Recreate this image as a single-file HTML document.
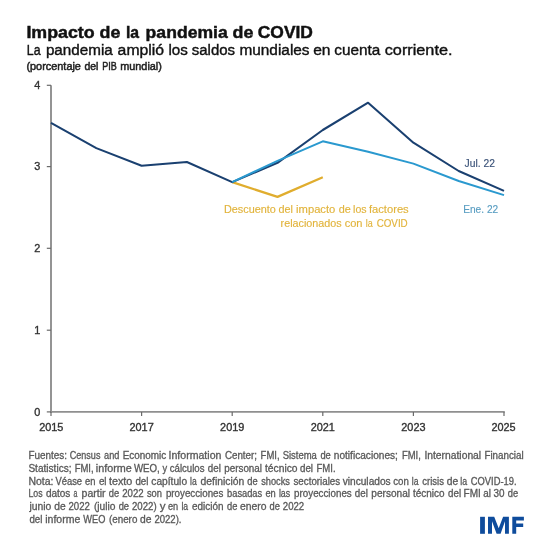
<!DOCTYPE html>
<html><head><meta charset="utf-8">
<style>
html,body{margin:0;padding:0;background:#fff;}
body{width:550px;height:550px;overflow:hidden;position:relative;font-family:"Liberation Sans",sans-serif;}
svg{position:absolute;left:0;top:0;will-change:transform;}
text{font-family:"Liberation Sans",sans-serif;}
</style></head><body>
<svg width="550" height="550" viewBox="0 0 550 550">
<rect x="0" y="0" width="550" height="550" fill="#fff"/>
<g font-size="16.8" font-weight="bold" fill="#111" stroke="#111" stroke-width="0.45">
<text x="26.4" y="38.2" textLength="68.27" lengthAdjust="spacingAndGlyphs">Impacto</text>
<text x="99.52" y="38.2" textLength="20.85" lengthAdjust="spacingAndGlyphs">de</text>
<text x="125.92" y="38.2" textLength="13.13" lengthAdjust="spacingAndGlyphs">la</text>
<text x="145.64" y="38.2" textLength="82.13" lengthAdjust="spacingAndGlyphs">pandemia</text>
<text x="232.6" y="38.2" textLength="20.85" lengthAdjust="spacingAndGlyphs">de</text>
<text x="257.76" y="38.2" textLength="55.18" lengthAdjust="spacingAndGlyphs">COVID</text>
</g>
<g font-size="15.5" fill="#111" stroke="#111" stroke-width="0.4">
<text x="26.8" y="54.5" textLength="13.77" lengthAdjust="spacingAndGlyphs">La</text>
<text x="45.92" y="54.5" textLength="66.82" lengthAdjust="spacingAndGlyphs">pandemia</text>
<text x="117.64" y="54.5" textLength="46.46" lengthAdjust="spacingAndGlyphs">amplió</text>
<text x="168.44" y="54.5" textLength="19.41" lengthAdjust="spacingAndGlyphs">los</text>
<text x="191.72" y="54.5" textLength="43.34" lengthAdjust="spacingAndGlyphs">saldos</text>
<text x="239.4" y="54.5" textLength="70.17" lengthAdjust="spacingAndGlyphs">mundiales</text>
<text x="313.16" y="54.5" textLength="17.36" lengthAdjust="spacingAndGlyphs">en</text>
<text x="334.32" y="54.5" textLength="46.01" lengthAdjust="spacingAndGlyphs">cuenta</text>
<text x="384.76" y="54.5" textLength="67.73" lengthAdjust="spacingAndGlyphs">corriente.</text>
</g>
<g font-size="11.2" fill="#222" stroke="#222" stroke-width="0.5">
<text x="26.4" y="70.4" textLength="54.55" lengthAdjust="spacingAndGlyphs">(porcentaje</text>
<text x="84.4" y="70.4" textLength="14.04" lengthAdjust="spacingAndGlyphs">del</text>
<text x="102.2" y="70.4" textLength="14.56" lengthAdjust="spacingAndGlyphs">PIB</text>
<text x="120.2" y="70.4" textLength="41.73" lengthAdjust="spacingAndGlyphs">mundial)</text>
</g>
<g stroke="#8f8f8f" stroke-width="1.9" fill="none">
<line x1="51" y1="85.3" x2="51" y2="412.8"/>
<line x1="50" y1="411.9" x2="504.8" y2="411.9"/>
</g>
<g stroke="#6a6a6a" stroke-width="1.2" fill="none">
<line x1="46.8" y1="85.3" x2="51" y2="85.3"/>
<line x1="46.8" y1="166.6" x2="51" y2="166.6"/>
<line x1="46.8" y1="248.3" x2="51" y2="248.3"/>
<line x1="46.8" y1="330.2" x2="51" y2="330.2"/>
<line x1="46.8" y1="411.9" x2="51" y2="411.9"/>
<line x1="51" y1="411.9" x2="51" y2="416"/>
<line x1="141.6" y1="411.9" x2="141.6" y2="416"/>
<line x1="232.2" y1="411.9" x2="232.2" y2="416"/>
<line x1="322.8" y1="411.9" x2="322.8" y2="416"/>
<line x1="413.4" y1="411.9" x2="413.4" y2="416"/>
<line x1="504" y1="411.9" x2="504" y2="416"/>
</g>
<g font-size="10.9" fill="#333" stroke="#333" stroke-width="0.35" text-anchor="end">
<text x="40.3" y="88.6">4</text>
<text x="40.3" y="169.8">3</text>
<text x="40.3" y="252.1">2</text>
<text x="40.3" y="333.8">1</text>
<text x="40.3" y="415.5">0</text>
</g>
<g font-size="10.9" fill="#333" stroke="#333" stroke-width="0.35" text-anchor="middle">
<text x="51.3" y="430.9">2015</text>
<text x="141.6" y="430.9">2017</text>
<text x="232.2" y="430.9">2019</text>
<text x="322.8" y="430.9">2021</text>
<text x="413.4" y="430.9">2023</text>
<text x="503.5" y="430.9">2025</text>
</g>
<polyline fill="none" stroke="#e0ad2e" stroke-width="2.3" stroke-linejoin="round" points="232.2,182.1 277.5,196.9 322.8,177.3"/>
<polyline fill="none" stroke="#1a4070" stroke-width="2.05" stroke-linejoin="round" points="51,122.9 96.3,148.1 141.6,165.7 186.9,162 232.2,182.1 277.5,162.8 322.8,130 368.1,102.7 413.4,142.7 458.7,171 504,190.9"/>
<polyline fill="none" stroke="#2a99cf" stroke-width="2" stroke-linejoin="round" points="232.2,182.1 277.5,160.8 322.8,141.3 368.1,151.7 413.4,163.6 458.7,181 504,195.1"/>
<text x="464.6" y="167.1" font-size="10.6" fill="#3a5278" stroke="#3a5278" stroke-width="0.15" textLength="30.3" lengthAdjust="spacingAndGlyphs">Jul. 22</text>
<text x="463.2" y="212.5" font-size="10.6" fill="#5a9ec2" stroke="#5a9ec2" stroke-width="0.15" textLength="35" lengthAdjust="spacingAndGlyphs">Ene. 22</text>
<g font-size="10.8" fill="#e2b43c" stroke="#e2b43c" stroke-width="0.15">
<text x="224.0" y="213.1" textLength="51.83" lengthAdjust="spacingAndGlyphs">Descuento</text>
<text x="278.6" y="213.1" textLength="14.43" lengthAdjust="spacingAndGlyphs">del</text>
<text x="296.12" y="213.1" textLength="39.2" lengthAdjust="spacingAndGlyphs">impacto</text>
<text x="338.68" y="213.1" textLength="12.04" lengthAdjust="spacingAndGlyphs">de</text>
<text x="353.08" y="213.1" textLength="13.51" lengthAdjust="spacingAndGlyphs">los</text>
<text x="368.92" y="213.1" textLength="39.81" lengthAdjust="spacingAndGlyphs">factores</text>
<text x="280.6" y="226.5" textLength="61.07" lengthAdjust="spacingAndGlyphs">relacionados</text>
<text x="344.68" y="226.5" textLength="17.88" lengthAdjust="spacingAndGlyphs">con</text>
<text x="365.84" y="226.5" textLength="7.0" lengthAdjust="spacingAndGlyphs">la</text>
<text x="376.64" y="226.5" textLength="31.09" lengthAdjust="spacingAndGlyphs">COVID</text>
</g>
<g font-size="10" fill="#595959" stroke="#595959" stroke-width="0.3">
<text x="28.4" y="459.4" textLength="38.58" lengthAdjust="spacingAndGlyphs">Fuentes:</text>
<text x="69.76" y="459.4" textLength="30.65" lengthAdjust="spacingAndGlyphs">Census</text>
<text x="104.08" y="459.4" textLength="15.28" lengthAdjust="spacingAndGlyphs">and</text>
<text x="122.68" y="459.4" textLength="43.62" lengthAdjust="spacingAndGlyphs">Economic</text>
<text x="168.56" y="459.4" textLength="52.86" lengthAdjust="spacingAndGlyphs">Information</text>
<text x="224.92" y="459.4" textLength="32.09" lengthAdjust="spacingAndGlyphs">Center;</text>
<text x="260.6" y="459.4" textLength="18.97" lengthAdjust="spacingAndGlyphs">FMI,</text>
<text x="282.64" y="459.4" textLength="34.21" lengthAdjust="spacingAndGlyphs">Sistema</text>
<text x="320.4" y="459.4" textLength="10.38" lengthAdjust="spacingAndGlyphs">de</text>
<text x="333.76" y="459.4" textLength="64.15" lengthAdjust="spacingAndGlyphs">notificaciones;</text>
<text x="401.92" y="459.4" textLength="18.97" lengthAdjust="spacingAndGlyphs">FMI,</text>
<text x="424.4" y="459.4" textLength="56.76" lengthAdjust="spacingAndGlyphs">International</text>
<text x="484.44" y="459.4" textLength="39.26" lengthAdjust="spacingAndGlyphs">Financial</text>
<text x="28.4" y="472" textLength="43.13" lengthAdjust="spacingAndGlyphs">Statistics;</text>
<text x="74.64" y="472" textLength="18.97" lengthAdjust="spacingAndGlyphs">FMI,</text>
<text x="95.88" y="472" textLength="36.0" lengthAdjust="spacingAndGlyphs">informe</text>
<text x="133.96" y="472" textLength="25.84" lengthAdjust="spacingAndGlyphs">WEO,</text>
<text x="162.6" y="472" textLength="4.65" lengthAdjust="spacingAndGlyphs">y</text>
<text x="169.72" y="472" textLength="34.76" lengthAdjust="spacingAndGlyphs">cálculos</text>
<text x="207.8" y="472" textLength="13.01" lengthAdjust="spacingAndGlyphs">del</text>
<text x="224.28" y="472" textLength="37.71" lengthAdjust="spacingAndGlyphs">personal</text>
<text x="265.0" y="472" textLength="32.56" lengthAdjust="spacingAndGlyphs">técnico</text>
<text x="300.04" y="472" textLength="13.01" lengthAdjust="spacingAndGlyphs">del</text>
<text x="316.48" y="472" textLength="19.1" lengthAdjust="spacingAndGlyphs">FMI.</text>
<text x="28.4" y="484.6" textLength="25.0" lengthAdjust="spacingAndGlyphs">Nota:</text>
<text x="55.48" y="484.6" textLength="26.62" lengthAdjust="spacingAndGlyphs">Véase</text>
<text x="84.96" y="484.6" textLength="10.36" lengthAdjust="spacingAndGlyphs">en</text>
<text x="98.92" y="484.6" textLength="7.64" lengthAdjust="spacingAndGlyphs">el</text>
<text x="108.96" y="484.6" textLength="23.44" lengthAdjust="spacingAndGlyphs">texto</text>
<text x="135.4" y="484.6" textLength="13.01" lengthAdjust="spacingAndGlyphs">del</text>
<text x="151.36" y="484.6" textLength="35.7" lengthAdjust="spacingAndGlyphs">capítulo</text>
<text x="190.04" y="484.6" textLength="6.65" lengthAdjust="spacingAndGlyphs">la</text>
<text x="200.56" y="484.6" textLength="43.66" lengthAdjust="spacingAndGlyphs">definición</text>
<text x="247.32" y="484.6" textLength="10.35" lengthAdjust="spacingAndGlyphs">de</text>
<text x="261.16" y="484.6" textLength="28.81" lengthAdjust="spacingAndGlyphs">shocks</text>
<text x="293.48" y="484.6" textLength="46.71" lengthAdjust="spacingAndGlyphs">sectoriales</text>
<text x="342.68" y="484.6" textLength="47.99" lengthAdjust="spacingAndGlyphs">vinculados</text>
<text x="393.2" y="484.6" textLength="15.6" lengthAdjust="spacingAndGlyphs">con</text>
<text x="411.76" y="484.6" textLength="6.69" lengthAdjust="spacingAndGlyphs">la</text>
<text x="422.2" y="484.6" textLength="21.72" lengthAdjust="spacingAndGlyphs">crisis</text>
<text x="446.8" y="484.6" textLength="11.42" lengthAdjust="spacingAndGlyphs">de</text>
<text x="460.36" y="484.6" textLength="6.83" lengthAdjust="spacingAndGlyphs">la</text>
<text x="470.76" y="484.6" textLength="45.76" lengthAdjust="spacingAndGlyphs">COVID-19.</text>
<text x="28.4" y="497.4" textLength="14.17" lengthAdjust="spacingAndGlyphs">Los</text>
<text x="45.88" y="497.4" textLength="24.47" lengthAdjust="spacingAndGlyphs">datos</text>
<text x="73.4" y="497.4" textLength="3.86" lengthAdjust="spacingAndGlyphs">a</text>
<text x="81.64" y="497.4" textLength="23.99" lengthAdjust="spacingAndGlyphs">partir</text>
<text x="108.84" y="497.4" textLength="10.39" lengthAdjust="spacingAndGlyphs">de</text>
<text x="122.2" y="497.4" textLength="21.42" lengthAdjust="spacingAndGlyphs">2022</text>
<text x="146.88" y="497.4" textLength="15.06" lengthAdjust="spacingAndGlyphs">son</text>
<text x="165.88" y="497.4" textLength="57.56" lengthAdjust="spacingAndGlyphs">proyecciones</text>
<text x="227.08" y="497.4" textLength="35.1" lengthAdjust="spacingAndGlyphs">basadas</text>
<text x="265.44" y="497.4" textLength="10.36" lengthAdjust="spacingAndGlyphs">en</text>
<text x="278.92" y="497.4" textLength="11.3" lengthAdjust="spacingAndGlyphs">las</text>
<text x="294.12" y="497.4" textLength="57.63" lengthAdjust="spacingAndGlyphs">proyecciones</text>
<text x="354.84" y="497.4" textLength="13.01" lengthAdjust="spacingAndGlyphs">del</text>
<text x="371.32" y="497.4" textLength="38.74" lengthAdjust="spacingAndGlyphs">personal</text>
<text x="413.04" y="497.4" textLength="31.57" lengthAdjust="spacingAndGlyphs">técnico</text>
<text x="448.12" y="497.4" textLength="13.01" lengthAdjust="spacingAndGlyphs">del</text>
<text x="463.52" y="497.4" textLength="17.27" lengthAdjust="spacingAndGlyphs">FMI</text>
<text x="483.24" y="497.4" textLength="7.67" lengthAdjust="spacingAndGlyphs">al</text>
<text x="493.6" y="497.4" textLength="10.99" lengthAdjust="spacingAndGlyphs">30</text>
<text x="507.72" y="497.4" textLength="10.35" lengthAdjust="spacingAndGlyphs">de</text>
<text x="29.4" y="510" textLength="21.93" lengthAdjust="spacingAndGlyphs">junio</text>
<text x="54.2" y="510" textLength="11.38" lengthAdjust="spacingAndGlyphs">de</text>
<text x="68.52" y="510" textLength="21.42" lengthAdjust="spacingAndGlyphs">2022</text>
<text x="93.92" y="510" textLength="21.63" lengthAdjust="spacingAndGlyphs">(julio</text>
<text x="118.64" y="510" textLength="10.36" lengthAdjust="spacingAndGlyphs">de</text>
<text x="131.96" y="510" textLength="24.65" lengthAdjust="spacingAndGlyphs">2022)</text>
<text x="159.72" y="510" textLength="5.76" lengthAdjust="spacingAndGlyphs">y</text>
<text x="167.96" y="510" textLength="10.25" lengthAdjust="spacingAndGlyphs">en</text>
<text x="181.44" y="510" textLength="6.69" lengthAdjust="spacingAndGlyphs">la</text>
<text x="192.04" y="510" textLength="31.42" lengthAdjust="spacingAndGlyphs">edición</text>
<text x="227.08" y="510" textLength="10.38" lengthAdjust="spacingAndGlyphs">de</text>
<text x="240.08" y="510" textLength="26.47" lengthAdjust="spacingAndGlyphs">enero</text>
<text x="269.44" y="510" textLength="10.38" lengthAdjust="spacingAndGlyphs">de</text>
<text x="282.8" y="510" textLength="21.42" lengthAdjust="spacingAndGlyphs">2022</text>
<text x="29.4" y="522.6" textLength="13.01" lengthAdjust="spacingAndGlyphs">del</text>
<text x="45.24" y="522.6" textLength="35.01" lengthAdjust="spacingAndGlyphs">informe</text>
<text x="83.28" y="522.6" textLength="22.06" lengthAdjust="spacingAndGlyphs">WEO</text>
<text x="108.96" y="522.6" textLength="28.4" lengthAdjust="spacingAndGlyphs">(enero</text>
<text x="140.08" y="522.6" textLength="11.43" lengthAdjust="spacingAndGlyphs">de</text>
<text x="154.4" y="522.6" textLength="27.11" lengthAdjust="spacingAndGlyphs">2022).</text>
</g>
<g fill="#0f4c9c">
<rect x="480.1" y="516.8" width="4.8" height="17"/>
<polygon points="488,533.8 488,516.8 494.2,516.8 498.7,528.3 503.1,516.8 508.9,516.8 508.9,533.8 505,533.8 505,521.2 500.6,533.8 496.6,533.8 492,521.2 492,533.8"/>
<polygon points="512.3,516.8 523.9,516.8 523.9,520.4 516.2,520.4 516.2,523.6 523.2,523.6 523.2,527 516.2,527 516.2,533.8 512.3,533.8"/>
</g>
</svg>
</body></html>
